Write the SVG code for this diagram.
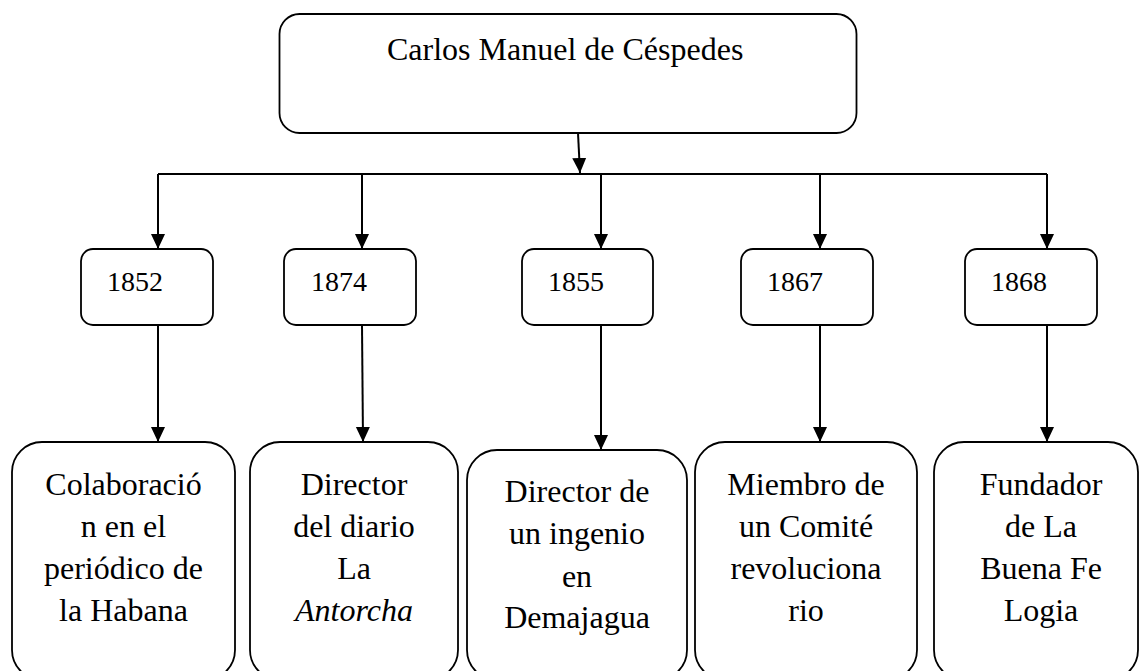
<svg xmlns="http://www.w3.org/2000/svg" width="1142" height="671" viewBox="0 0 1142 671">
<style>
.box{fill:#fff;stroke:#000;stroke-width:1.8}
.ln{fill:none;stroke:#000;stroke-width:2}
text{font-family:"Liberation Serif","Times New Roman",serif;fill:#000}
.t{font-size:32px;text-anchor:middle}
.y{font-size:28px}
</style>
<defs>
<marker id="ah" markerUnits="userSpaceOnUse" markerWidth="16" markerHeight="16" viewBox="0 0 16 16" refX="15" refY="8" orient="auto">
<path d="M0,1 L15,8 L0,15 Z" fill="#000"/>
</marker>
</defs>
<rect width="1142" height="671" fill="#fff"/>
<g id="connectors">
<path class="ln" d="M578,133 L580,173" marker-end="url(#ah)"/>
<path class="ln" d="M158,174 L1047,174"/>
<path class="ln" d="M158,174 L158,249" marker-end="url(#ah)"/>
<path class="ln" d="M362,174 L362,249" marker-end="url(#ah)"/>
<path class="ln" d="M601,174 L601,249" marker-end="url(#ah)"/>
<path class="ln" d="M820,174 L820,249" marker-end="url(#ah)"/>
<path class="ln" d="M1047,174 L1047,249" marker-end="url(#ah)"/>
<path class="ln" d="M158,325 L158,442" marker-end="url(#ah)"/>
<path class="ln" d="M362,325 L363,442" marker-end="url(#ah)"/>
<path class="ln" d="M601,325 L601,450" marker-end="url(#ah)"/>
<path class="ln" d="M820,325 L820,442" marker-end="url(#ah)"/>
<path class="ln" d="M1047,325 L1047,442" marker-end="url(#ah)"/>
</g>
<g id="root">
<rect class="box" x="279.5" y="14" width="577" height="119" rx="20"/>
<text x="387" y="60" style="font-size:32px">Carlos Manuel de Céspedes</text>
</g>
<g id="y1852"><rect class="box" x="81" y="249" width="132" height="76" rx="12"/><text class="y" x="107" y="291">1852</text></g>
<g id="y1874"><rect class="box" x="284" y="249" width="132" height="76" rx="12"/><text class="y" x="311" y="291">1874</text></g>
<g id="y1855"><rect class="box" x="522" y="249" width="131" height="76" rx="12"/><text class="y" x="548" y="291">1855</text></g>
<g id="y1867"><rect class="box" x="741" y="249" width="132" height="76" rx="12"/><text class="y" x="767" y="291">1867</text></g>
<g id="y1868"><rect class="box" x="965" y="249" width="132" height="76" rx="12"/><text class="y" x="991" y="291">1868</text></g>
<g id="d1">
<rect class="box" x="12" y="442" width="223" height="238" rx="30"/>
<text class="t" x="123.5" y="495">Colaboració</text>
<text class="t" x="123.5" y="537">n en el</text>
<text class="t" x="123.5" y="579">periódico de</text>
<text class="t" x="123.5" y="621">la Habana</text>
</g>
<g id="d2">
<rect class="box" x="250" y="442" width="208" height="238" rx="30"/>
<text class="t" x="354" y="495">Director</text>
<text class="t" x="354" y="537">del diario</text>
<text class="t" x="354" y="579">La</text>
<text class="t" x="354" y="621" font-style="italic">Antorcha</text>
</g>
<g id="d3">
<rect class="box" x="467" y="450" width="220" height="230" rx="30"/>
<text class="t" x="577" y="502">Director de</text>
<text class="t" x="577" y="544">un ingenio</text>
<text class="t" x="577" y="587">en</text>
<text class="t" x="577" y="628">Demajagua</text>
</g>
<g id="d4">
<rect class="box" x="695" y="442" width="222" height="238" rx="30"/>
<text class="t" x="806" y="495">Miembro de</text>
<text class="t" x="806" y="537">un Comité</text>
<text class="t" x="806" y="579">revoluciona</text>
<text class="t" x="806" y="621">rio</text>
</g>
<g id="d5">
<rect class="box" x="934" y="442" width="204" height="238" rx="30"/>
<text class="t" x="1041" y="495">Fundador</text>
<text class="t" x="1041" y="537">de La</text>
<text class="t" x="1041" y="579">Buena Fe</text>
<text class="t" x="1041" y="621">Logia</text>
</g>
</svg>
